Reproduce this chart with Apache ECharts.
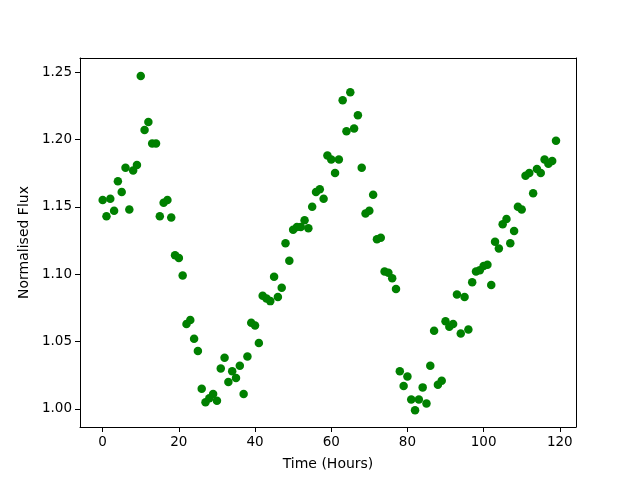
<!DOCTYPE html>
<html><head><meta charset="utf-8">
<script src="https://cdn.jsdelivr.net/npm/echarts@6/dist/echarts.min.js"></script>
<style>html,body{margin:0;padding:0;background:#fff}#c{width:640px;height:480px}</style>
</head><body><div id="c"></div>
<script>
const hours = Array.from({length:120},(_, i)=>i);
const flux = [
1.155,1.143,1.156,1.147,1.169,1.161,1.179,1.148,1.177,1.181,
1.247,1.207,1.213,1.197,1.197,1.143,1.153,1.155,1.142,1.114,
1.112,1.099,1.063,1.066,1.052,1.043,1.015,1.005,1.008,1.011,
1.006,1.030,1.038,1.020,1.028,1.023,1.032,1.011,1.039,1.064,
1.062,1.049,1.084,1.082,1.080,1.098,1.083,1.090,1.123,1.110,
1.133,1.135,1.135,1.140,1.134,1.150,1.161,1.163,1.156,1.188,
1.185,1.175,1.185,1.229,1.206,1.235,1.208,1.218,1.179,1.145,
1.147,1.159,1.126,1.127,1.102,1.101,1.097,1.089,1.028,1.017,
1.024,1.007,0.999,1.007,1.016,1.004,1.032,1.058,1.018,1.021,
1.065,1.061,1.063,1.085,1.056,1.083,1.059,1.094,1.102,1.103,
1.106,1.107,1.092,1.124,1.119,1.137,1.141,1.123,1.132,1.150,
1.148,1.173,1.175,1.160,1.178,1.175,1.185,1.182,1.184,1.199
];
const xTicks = [0,20,40,60,80,100,120];
const yTicks = [1.00,1.05,1.10,1.15,1.20,1.25];
const font = 'DejaVu Sans';
const xMin = -5.95, xMax = 124.25, yMin = 0.9866, yMax = 1.2604;
const frameAxis = (pos, min, max) => ({type:'value',position:pos,min:min,max:max,
  axisLine:{show:true,onZero:false,lineStyle:{color:'#000',width:1}},
  axisTick:{show:false},axisLabel:{show:false},splitLine:{show:false}});
const chart = echarts.init(document.getElementById('c'));
chart.setOption({
  animation:false,
  backgroundColor:'#fff',
  grid:{left:80,right:64,top:58,bottom:53},
  xAxis:[{type:'value',position:'bottom',min:xMin,max:xMax,
    name:'Time (Hours)',nameLocation:'middle',nameGap:30,
    nameTextStyle:{fontFamily:font,fontSize:14,color:'#000'},
    axisLine:{show:true,onZero:false,lineStyle:{color:'#000'}},
    axisTick:{show:true,customValues:xTicks,length:5,lineStyle:{color:'#000'}},
    axisLabel:{customValues:xTicks,fontFamily:font,fontSize:13.5,color:'#000',margin:8},
    splitLine:{show:false}}, frameAxis('top', xMin, xMax)],
  yAxis:[{type:'value',position:'left',min:yMin,max:yMax,
    name:'Normalised Flux',nameLocation:'middle',nameGap:45,nameRotate:90,
    nameTextStyle:{fontFamily:font,fontSize:14,color:'#000'},
    axisLine:{show:true,onZero:false,lineStyle:{color:'#000'}},
    axisTick:{show:true,customValues:yTicks,length:5,lineStyle:{color:'#000'}},
    axisLabel:{customValues:yTicks,fontFamily:font,fontSize:13.5,color:'#000',margin:8,
      formatter:v=>v.toFixed(2)},
    splitLine:{show:false}}, frameAxis('right', yMin, yMax)],
  series:[{type:'scatter',symbolSize:8.5,itemStyle:{color:'#008000',opacity:1},
    data:hours.map((h,i)=>[h,flux[i]])}]
});
</script></body></html>
